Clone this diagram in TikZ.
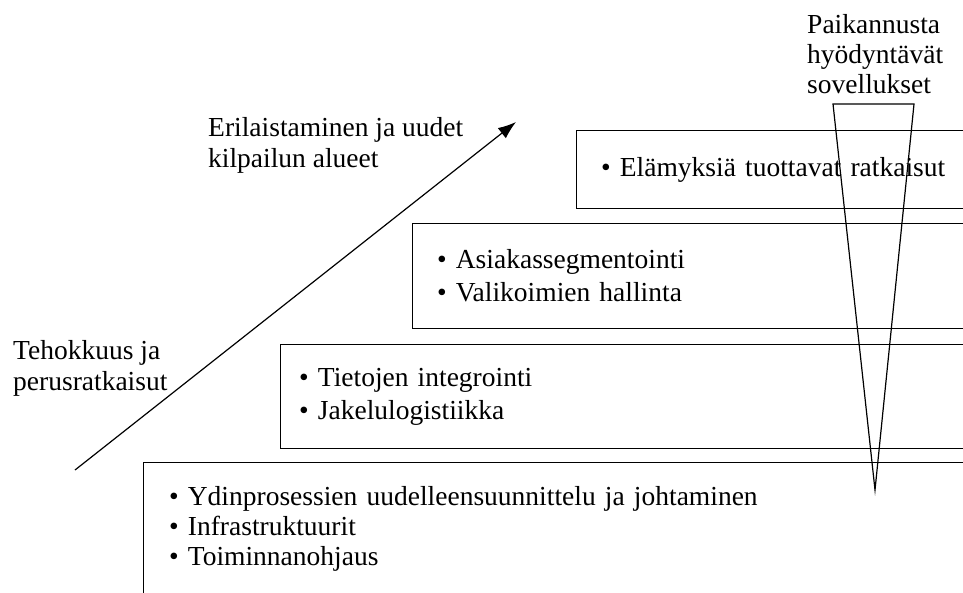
\documentclass[tikz,border=0pt]{standalone}
\usepackage{fontspec}
\setmainfont{Liberation Serif}
\usetikzlibrary{arrows.meta}

\tikzset{
  kerros/.style={draw, line width=1.2pt, anchor=north west, inner xsep=24.5pt, inner ysep=0pt,
    align=left, font=\fontsize{27.5}{33}\selectfont},
  otsikko/.style={anchor=north west, inner sep=0pt, align=left, font=\fontsize{27.5}{31}\selectfont}
}

\begin{document}
\begin{tikzpicture}[x=1pt,y=-1pt]

\useasboundingbox (0,0) rectangle (963,592);
\clip (0,0) rectangle (963,592);

% kerrokset alhaalta ylos
\node [kerros, inner xsep=25.5pt, font=\fontsize{27.5}{30}\selectfont,
  minimum width=860pt, minimum height=133.5pt, text width=809pt] (k1) at (143,462)
  {\textbullet\ Ydinprosessien uudelleensuunnittelu ja johtaminen\\
   \textbullet\ Infrastruktuurit\\
   \textbullet\ Toiminnanohjaus};
\node [kerros, inner xsep=18.5pt, minimum width=720pt, minimum height=104pt, text width=683pt] (k2) at (280,344)
  {\textbullet\ Tietojen integrointi\\
   \textbullet\ Jakelulogistiikka};
\node [kerros, minimum width=590pt, minimum height=105pt, text width=541pt] (k3) at (412,223)
  {\textbullet\ Asiakassegmentointi\\
   \textbullet\ Valikoimien hallinta};
\node [kerros, minimum width=425pt, minimum height=78pt, text width=376pt] (k4) at (576,130)
  {\textbullet\ Elämyksiä tuottavat ratkaisut};

% nuoli
\coordinate (a0) at (75,470);
\coordinate (a1) at (516,122);
\draw [line width=1.2pt, -{Latex[length=18pt,width=13pt]}] (a0) -- (a1);

\node [otsikko] (tehokkuus) at (13,340) {Tehokkuus ja\\perusratkaisut};
\node [otsikko] (erilaistaminen) at (208,117) {Erilaistaminen ja uudet\\kilpailun alueet};

% paikannus
\coordinate (p0) at (833,104);
\coordinate (p1) at (914,104);
\coordinate (p2) at (875,490);
\draw [line width=1.2pt, line join=miter] (p0) -- (p1) -- (p2) -- cycle;

\node [otsikko, font=\fontsize{27.5}{30}\selectfont] (paikannus) at (807,14)
  {Paikannusta\\hyödyntävät\\sovellukset};

\end{tikzpicture}
\end{document}
